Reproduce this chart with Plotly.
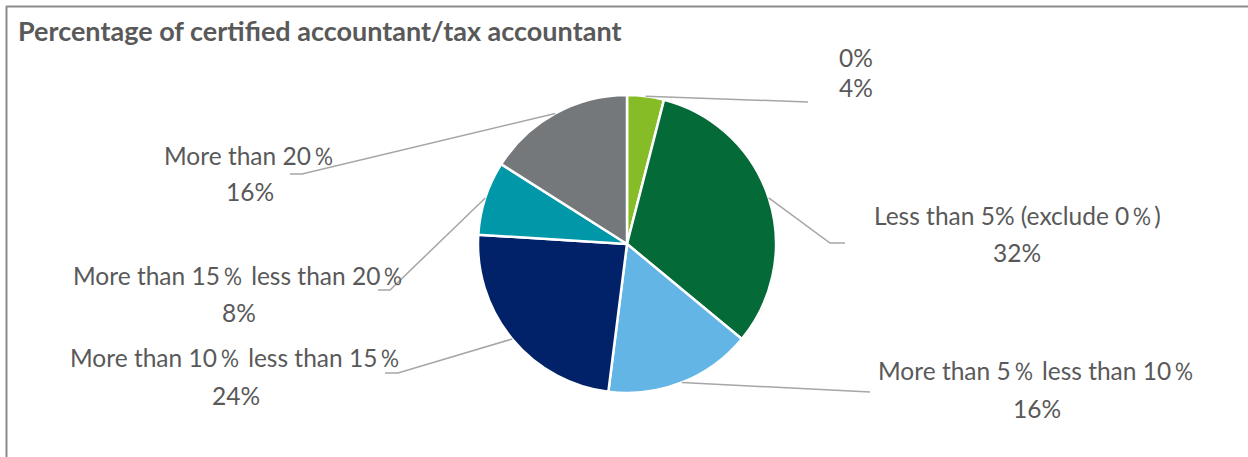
import math
import plotly.graph_objects as go

# Survey breakdown: share of certified accountants / tax accountants
categories = [
    "0%",
    "Less than 5% (exclude 0％)",
    "More than 5％ less than 10％",
    "More than 10％ less than 15％",
    "More than 15％ less than 20％",
    "More than 20％",
]
shares = [4, 32, 16, 24, 8, 16]
colors = ["#86BC25", "#046A38", "#62B5E5", "#012169", "#0097A9", "#75787B"]

W, H = 1248, 457
PIE_CX, PIE_CY, PIE_R = 627, 244, 149

# label placement per slice (pixels): text centre x, name line y, value line y,
# leader elbow point, and end of the short horizontal tail
label_layout = [
    dict(x=856, y1=57, y2=88, elbow=(808, 102), tail=None),
    dict(x=1017, y1=215, y2=252, elbow=(830, 243), tail=(845, 243)),
    dict(x=1037, y1=370, y2=408, elbow=(870, 392), tail=None),
    dict(x=236, y1=357, y2=395, elbow=(398, 373), tail=(385, 373)),
    dict(x=239, y1=275, y2=312, elbow=(390, 290), tail=(378, 290)),
    dict(x=250, y1=155, y2=191, elbow=(302, 174), tail=(290, 174)),
]

TEXT_COLOR = "#595959"
LINE_COLOR = "#A6A6A6"
FONT = "Lato, Carlito, Calibri, sans-serif"
LABEL_SIZE = 24.5
TITLE_SIZE = 27


def px(x):
    return x / W


def py(y):
    return 1 - y / H


fig = go.Figure(
    go.Pie(
        labels=categories,
        values=shares,
        sort=False,
        direction="clockwise",
        rotation=0,
        marker=dict(colors=colors, line=dict(color="white", width=2.5)),
        textinfo="none",
        hoverinfo="label+percent",
        showlegend=False,
        domain=dict(
            x=[px(PIE_CX - PIE_R), px(PIE_CX + PIE_R)],
            y=[py(PIE_CY + PIE_R), py(PIE_CY - PIE_R)],
        ),
    )
)

annotations = []
shapes = []
total = sum(shares)
cum = 0
for name, val, lay in zip(categories, shares, label_layout):
    mid = (cum + val / 2) / total * 2 * math.pi
    cum += val
    # point on the rim at the slice's middle angle (clockwise from 12 o'clock)
    ex = PIE_CX + PIE_R * math.sin(mid)
    ey = PIE_CY - PIE_R * math.cos(mid)
    pts = [(ex, ey), lay["elbow"]]
    if lay["tail"]:
        pts.append(lay["tail"])
    path = "M " + " L ".join(f"{px(a):.5f},{py(b):.5f}" for a, b in pts)
    shapes.append(dict(type="path", xref="paper", yref="paper", path=path,
                       line=dict(color=LINE_COLOR, width=1.5)))
    annotations.append(dict(x=px(lay["x"]), y=py(lay["y1"]), xref="paper", yref="paper",
                            text=name, showarrow=False, xanchor="center", yanchor="middle",
                            font=dict(family=FONT, size=LABEL_SIZE, color=TEXT_COLOR)))
    annotations.append(dict(x=px(lay["x"]), y=py(lay["y2"]), xref="paper", yref="paper",
                            text=f"{val}%", showarrow=False, xanchor="center", yanchor="middle",
                            font=dict(family=FONT, size=LABEL_SIZE, color=TEXT_COLOR)))

# title
annotations.append(dict(x=px(16), y=py(31), xref="paper", yref="paper",
                        text="<b>Percentage of certified accountant/tax accountant</b>",
                        showarrow=False, xanchor="left", yanchor="middle",
                        font=dict(family=FONT, size=TITLE_SIZE, color=TEXT_COLOR)))

# chart frame (left and top edges)
shapes.append(dict(type="line", xref="paper", yref="paper", x0=px(6.5), x1=px(6.5),
                   y0=py(6), y1=py(H + 5), line=dict(color="#8C8C8C", width=2)))
shapes.append(dict(type="line", xref="paper", yref="paper", x0=px(6), x1=px(W + 5),
                   y0=py(6.5), y1=py(6.5), line=dict(color="#8C8C8C", width=2)))

fig.update_layout(
    width=W,
    height=H,
    margin=dict(l=0, r=0, t=0, b=0),
    paper_bgcolor="white",
    plot_bgcolor="white",
    annotations=annotations,
    shapes=shapes,
)

fig.write_html("out.html")
